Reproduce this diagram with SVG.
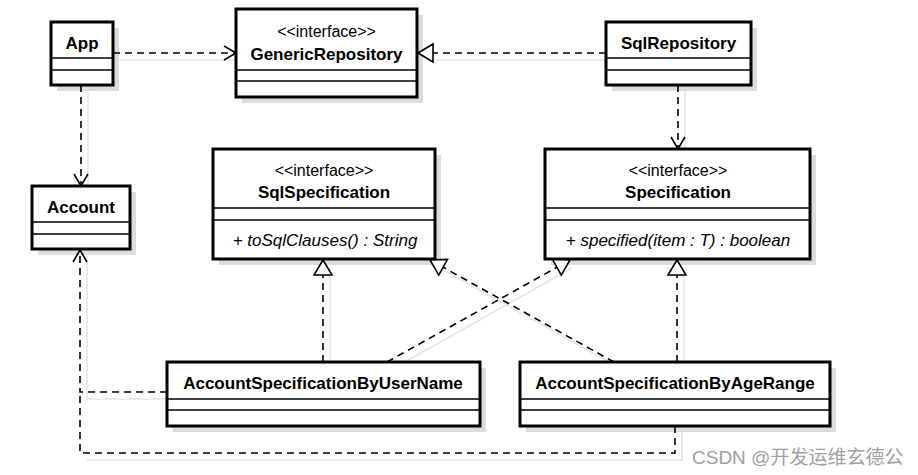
<svg xmlns="http://www.w3.org/2000/svg" width="918" height="475" viewBox="0 0 918 475">
<style>
.box{fill:#fff;stroke:#000;stroke-width:3}
.sh{fill:#dcdcdc}
.div{stroke:#000;stroke-width:1.5}
.name{font-family:"Liberation Sans",Arial,sans-serif;font-weight:bold;font-size:17px;text-anchor:middle;fill:#000}
.st{font-family:"Liberation Sans",Arial,sans-serif;font-size:16px;text-anchor:middle;fill:#000}
.op{font-family:"Liberation Sans",Arial,sans-serif;font-size:17px;font-style:italic;text-anchor:middle;fill:#000}
.dep{fill:none;stroke:#000;stroke-width:1.6;stroke-dasharray:7 5}
.csh{fill:none;stroke:#e4e4e4;stroke-width:1.5}
.wm{font-family:"Liberation Sans","Noto Sans CJK SC",sans-serif;font-size:19px;fill:#a0a0a0}
</style>
<defs>
<marker id="open" markerUnits="userSpaceOnUse" markerWidth="16" markerHeight="18" refX="13" refY="8" orient="auto">
<path d="M1,1 L13,8 L1,15" fill="none" stroke="#000" stroke-width="1.6"/>
</marker>
<marker id="tri" markerUnits="userSpaceOnUse" markerWidth="20" markerHeight="22" refX="17" refY="10" orient="auto">
<path d="M2,1 L17,10 L2,19 Z" fill="#fff" stroke="#000" stroke-width="1.6"/>
</marker>
</defs>
<rect width="918" height="475" fill="#fff"/>

<g id="connector-shadows">
<path class="csh" d="M119,60 L236,60"/>
<path class="csh" d="M435,60 L606,60"/>
<path class="csh" d="M685,85 L685,149"/>
<path class="csh" d="M88,92 L88,186"/>
<path class="csh" d="M330,275 L330,362"/>
<path class="csh" d="M394,368 L572,268"/>
<path class="csh" d="M620,368 L440,268"/>
<path class="csh" d="M684,275 L684,362"/>
<path class="csh" d="M167,399 L87,399 L87,256"/>
<path class="csh" d="M682,432 L682,460 L87,460"/>
</g>

<g id="App">
<rect class="sh" x="57" y="28" width="62" height="63"/>
<rect class="box" x="51" y="22" width="62" height="63"/>
<line class="div" x1="51" y1="58" x2="113" y2="58"/>
<line class="div" x1="51" y1="70" x2="113" y2="70"/>
<text class="name" x="82" y="49">App</text>
</g>

<g id="GenericRepository">
<rect class="sh" x="242" y="15" width="181" height="88"/>
<rect class="box" x="236" y="9" width="181" height="88"/>
<line class="div" x1="236" y1="70" x2="417" y2="70"/>
<line class="div" x1="236" y1="81" x2="417" y2="81"/>
<text class="st" x="326.5" y="37">&lt;&lt;interface&gt;&gt;</text>
<text class="name" x="326.5" y="60">GenericRepository</text>
</g>

<g id="SqlRepository">
<rect class="sh" x="612" y="28" width="145" height="63"/>
<rect class="box" x="606" y="22" width="145" height="63"/>
<line class="div" x1="606" y1="58" x2="751" y2="58"/>
<line class="div" x1="606" y1="70" x2="751" y2="70"/>
<text class="name" x="678.5" y="49">SqlRepository</text>
</g>

<g id="Account">
<rect class="sh" x="38" y="192" width="98" height="63"/>
<rect class="box" x="32" y="186" width="98" height="63"/>
<line class="div" x1="32" y1="222" x2="130" y2="222"/>
<line class="div" x1="32" y1="234" x2="130" y2="234"/>
<text class="name" x="81" y="213">Account</text>
</g>

<g id="SqlSpecification">
<rect class="sh" x="219" y="155" width="222" height="110"/>
<rect class="box" x="213" y="149" width="222" height="110"/>
<line class="div" x1="213" y1="208" x2="435" y2="208"/>
<line class="div" x1="213" y1="220" x2="435" y2="220"/>
<text class="st" x="324" y="176">&lt;&lt;interface&gt;&gt;</text>
<text class="name" x="324" y="198">SqlSpecification</text>
<text class="op" x="325" y="246">+ toSqlClauses() : String</text>
</g>

<g id="Specification">
<rect class="sh" x="551" y="155" width="265" height="110"/>
<rect class="box" x="545" y="149" width="265" height="110"/>
<line class="div" x1="545" y1="208" x2="810" y2="208"/>
<line class="div" x1="545" y1="220" x2="810" y2="220"/>
<text class="st" x="678" y="176">&lt;&lt;interface&gt;&gt;</text>
<text class="name" x="678" y="198">Specification</text>
<text class="op" x="678" y="246">+ specified(item : T) : boolean</text>
</g>

<g id="AccountSpecificationByUserName">
<rect class="sh" x="173" y="368" width="313" height="64"/>
<rect class="box" x="167" y="362" width="313" height="64"/>
<line class="div" x1="167" y1="399" x2="480" y2="399"/>
<line class="div" x1="167" y1="410" x2="480" y2="410"/>
<text class="name" x="323" y="389">AccountSpecificationByUserName</text>
</g>

<g id="AccountSpecificationByAgeRange">
<rect class="sh" x="526" y="368" width="310" height="64"/>
<rect class="box" x="520" y="362" width="310" height="64"/>
<line class="div" x1="520" y1="399" x2="830" y2="399"/>
<line class="div" x1="520" y1="410" x2="830" y2="410"/>
<text class="name" x="675" y="389">AccountSpecificationByAgeRange</text>
</g>

<g id="connectors">
<path class="dep" d="M113,53 L236,53" marker-end="url(#open)"/>
<path class="dep" d="M606,53 L418,53" marker-end="url(#tri)"/>
<path class="dep" d="M678,85 L678,149" marker-end="url(#open)"/>
<path class="dep" d="M81,85 L81,186" marker-end="url(#open)"/>
<path class="dep" d="M323,362 L323,260" marker-end="url(#tri)"/>
<path class="dep" d="M387,362 L570,260" marker-end="url(#tri)"/>
<path class="dep" d="M614,362 L430,260" marker-end="url(#tri)"/>
<path class="dep" d="M677,362 L677,260" marker-end="url(#tri)"/>
<path class="dep" d="M167,392 L80,392 L80,250" marker-end="url(#open)"/>
<path class="dep" d="M675,426 L675,453 L80,453 L80,392"/>
</g>

<text class="wm" x="692" y="464">CSDN @开发运维玄德公</text>
</svg>
